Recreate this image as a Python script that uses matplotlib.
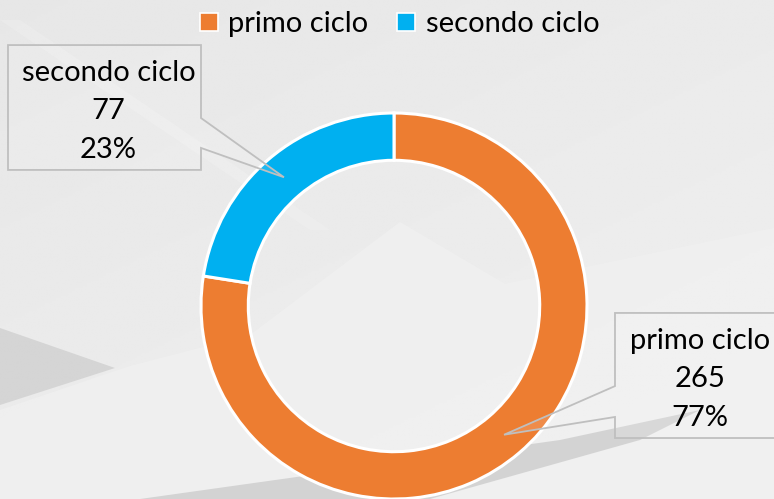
import numpy as np
import matplotlib
matplotlib.use("Agg")
import matplotlib.pyplot as plt
from matplotlib.patches import Polygon

categories = ["primo ciclo", "secondo ciclo"]
values = [265, 77]
colors = ["#ED7D31", "#00B0F0"]

plt.rcParams['font.family'] = ['Lato', 'DejaVu Sans']

W, H = 774, 499
fig = plt.figure(figsize=(W / 100, H / 100), dpi=100)

# background gradient + decorative shapes
bg = fig.add_axes([0, 0, 1, 1])
bg.set_xlim(0, W)
bg.set_ylim(H, 0)
bg.axis("off")
gx = np.linspace(0, 1, 200)
gy = np.linspace(0, 1, 200)
GX, GY = np.meshgrid(gx, gy)
grad = 0.905 + 0.015 * GX + 0.02 * GY
bg.imshow(grad, cmap="gray", vmin=0, vmax=1, extent=[0, W, H, 0], aspect="auto", zorder=0)
shapes = [
    ([(0, 410), (130, 366), (250, 335), (400, 222), (505, 284), (774, 228), (774, 499), (0, 499)], "#f1f1f1", 0.7),
    ([(0, 328), (115, 368), (0, 405)], "#cccccc", 0.7),
    ([(140, 499), (560, 440), (700, 410), (640, 440), (430, 499)], "#bcbcbc", 0.55),
    ([(0, 20), (20, 20), (330, 230), (310, 230)], "#f4f4f4", 0.3),
]
for pts, c, a in shapes:
    bg.add_patch(Polygon(pts, closed=True, facecolor=c, edgecolor="none", alpha=a, zorder=1))

# donut
R = 193
cx, cy = 394, 306
ax = fig.add_axes([(cx - R) / W, (H - cy - R) / H, 2 * R / W, 2 * R / H])
ax.patch.set_alpha(0)
ring = 0.245
wedges, _ = ax.pie(values, colors=colors, startangle=90, counterclock=False,
                   radius=1, wedgeprops=dict(width=ring, edgecolor="white", linewidth=2.2))
ax.set_xlim(-1, 1)
ax.set_ylim(-1, 1)
ax.set_aspect("auto")

total = sum(values)
boxes = {
    "secondo ciclo": dict(x0=-2.0, x1=-1.0, yt=1.352, yb=0.705, ax_=-1.0, a1=0.974, a2=0.819),
    "primo ciclo": dict(x0=1.145, x1=2.1, yt=-0.036, yb=-0.684, ax_=1.145, a1=-0.415, a2=-0.575),
}
rmid = 1 - ring / 2
for w, cat, v in zip(wedges, categories, values):
    ang = np.deg2rad((w.theta1 + w.theta2) / 2)
    tip = (rmid * np.cos(ang), rmid * np.sin(ang))
    b = boxes[cat]
    if b["ax_"] == b["x1"]:
        pts = [(b["x0"], b["yt"]), (b["x1"], b["yt"]), (b["x1"], b["a1"]), tip,
               (b["x1"], b["a2"]), (b["x1"], b["yb"]), (b["x0"], b["yb"])]
    else:
        pts = [(b["x0"], b["yt"]), (b["x1"], b["yt"]), (b["x1"], b["yb"]), (b["x0"], b["yb"]),
               (b["x0"], b["a2"]), tip, (b["x0"], b["a1"])]
    ax.add_patch(Polygon(pts, closed=True, facecolor=(1, 1, 1, 0.12), edgecolor="#bfbfbf",
                         linewidth=1.3, clip_on=False, zorder=5))
    if cat == "secondo ciclo":
        tx = (b["x0"] + 0.04 + b["x1"]) / 2
    else:
        tx = (b["x0"] + 1.969) / 2 + 0.03
    tyc = (b["yt"] + b["yb"]) / 2 - 0.02
    pct = f"{round(100 * v / total)}%"
    for i, s in enumerate([cat, str(v), pct]):
        ax.text(tx, tyc + (1 - i) * 0.2, s, ha="center", va="center", fontsize=21,
                color="black", zorder=6, clip_on=False)

leg = fig.legend(wedges, categories, loc="upper center", bbox_to_anchor=(0.516, 1.03), ncol=2,
                 frameon=False, fontsize=21, handlelength=0.62, handleheight=0.62,
                 handletextpad=0.35, columnspacing=1.0)
for h in leg.legend_handles:
    h.set_edgecolor("white")
    h.set_linewidth(1.2)

fig.savefig("out.png", dpi=100)
